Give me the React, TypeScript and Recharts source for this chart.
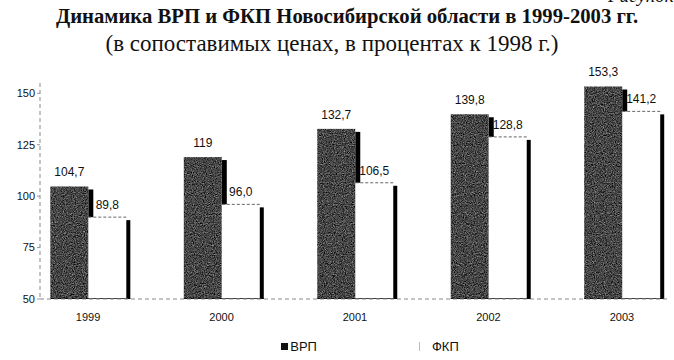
import React from 'react';
import { BarChart, Bar, XAxis, YAxis, LabelList, Legend } from 'recharts';

// Годы и значения (в % к 1998 г.)
const years = [1999, 2000, 2001, 2002, 2003];
const vrp = [104.7, 119, 132.7, 139.8, 153.3];
const fkp = [89.8, 96.0, 106.5, 128.8, 141.2];
const vrpLabels = ['104,7', '119', '132,7', '139,8', '153,3'];
const fkpLabels = ['89,8', '96,0', '106,5', '128,8', '141,2'];
const yTicks = [50, 75, 100, 125, 150];

const data = years.map((year, i) => ({
  year,
  vrp: vrp[i],
  fkp: fkp[i],
  vrpLabel: vrpLabels[i],
  fkpLabel: fkpLabels[i],
}));

const sans = 'Liberation Sans, Arial, sans-serif';
const serif = 'Liberation Serif, Times New Roman, serif';
const labelFont = { fontFamily: sans, fontSize: 12, fill: '#111' };

// тёмный столбец с "объёмной" тенью справа
const VrpShape = (props: any) => {
  const { x, y, width, height } = props;
  if (height <= 0) return null;
  return (
    <g>
      <rect x={x + width} y={y + 3} width={5} height={height - 3} fill="#000" />
      <rect x={x} y={y} width={width} height={height} fill="#555" filter="url(#noise)" />
    </g>
  );
};

// белый столбец с чёрной кромкой справа
const FkpShape = (props: any) => {
  const { x, y, width, height } = props;
  if (height <= 0) return null;
  return (
    <g>
      <rect x={x} y={y} width={width} height={height} fill="#fff" />
      <line x1={x} y1={y} x2={x + width} y2={y} stroke="#666" strokeDasharray="3 2" strokeWidth={1} />
      <rect x={x + width} y={y + 3} width={4} height={height - 3} fill="#000" />
      <line x1={x - width} y1={y + height} x2={x + width + 4} y2={y + height} stroke="#000" strokeWidth={1.5} />
    </g>
  );
};

const renderLegend = () => (
  <div
    style={{
      display: 'flex',
      justifyContent: 'center',
      gap: 102,
      fontFamily: sans,
      fontSize: 13,
      color: '#111',
      paddingLeft: 70,
    }}
  >
    <span style={{ display: 'flex', alignItems: 'center' }}>
      <span style={{ display: 'inline-block', width: 7, height: 7, background: '#111', marginRight: 2 }} />
      ВРП
    </span>
    <span style={{ display: 'flex', alignItems: 'center' }}>
      <span style={{ display: 'inline-block', width: 8, height: 9, borderLeft: '1px solid #bbb', marginRight: 4 }} />
      ФКП
    </span>
  </div>
);

export default function App() {
  return (
    <div style={{ position: 'absolute', left: 0, top: 0, width: 674, height: 360, background: '#fff', overflow: 'hidden' }}>
      <div
        style={{
          position: 'absolute',
          left: 608,
          top: -14,
          lineHeight: '20px',
          fontFamily: serif,
          fontStyle: 'italic',
          fontSize: 19,
          color: '#111',
          whiteSpace: 'nowrap',
        }}
      >
        Рисунок
      </div>
      <div
        style={{
          position: 'absolute',
          left: 0,
          top: 5,
          width: 694,
          lineHeight: '22px',
          textAlign: 'center',
          fontFamily: serif,
          fontWeight: 'bold',
          fontSize: 20.7,
          color: '#111',
          whiteSpace: 'nowrap',
        }}
      >
        Динамика ВРП и ФКП Новосибирской области в 1999-2003 гг.
      </div>
      <div
        style={{
          position: 'absolute',
          left: 0,
          top: 31,
          width: 664,
          lineHeight: '26px',
          textAlign: 'center',
          fontFamily: serif,
          fontSize: 23,
          color: '#111',
          whiteSpace: 'nowrap',
        }}
      >
        (в сопоставимых ценах, в процентах к 1998 г.)
      </div>
      <BarChart
        width={674}
        height={360}
        data={data}
        margin={{ top: 83, right: 4, bottom: 16, left: 0 }}
        barGap={0}
        barSize={38}
      >
        <defs>
          <filter id="noise" x="0" y="0" width="100%" height="100%" colorInterpolationFilters="sRGB">
            <feTurbulence type="fractalNoise" baseFrequency="0.9" numOctaves="2" seed="4" result="t" />
            <feColorMatrix
              in="t"
              type="matrix"
              values="0.33 0.33 0.33 0 0  0.33 0.33 0.33 0 0  0.33 0.33 0.33 0 0  0 0 0 0 1"
              result="g"
            />
            <feComponentTransfer in="g" result="c">
              <feFuncR type="linear" slope="1.4" intercept="-0.42" />
              <feFuncG type="linear" slope="1.4" intercept="-0.42" />
              <feFuncB type="linear" slope="1.4" intercept="-0.42" />
            </feComponentTransfer>
            <feComposite in="c" in2="SourceGraphic" operator="in" />
          </filter>
        </defs>
        <XAxis
          dataKey="year"
          type="number"
          domain={[1998.64, 2003.36]}
          ticks={years}
          tickLine={false}
          axisLine={{ stroke: '#888', strokeDasharray: '4 3' }}
          tick={{ fontFamily: sans, fontSize: 11, fill: '#111' }}
          tickMargin={8}
          height={30}
        />
        <YAxis
          domain={[50, 155]}
          ticks={yTicks}
          width={40}
          axisLine={{ stroke: '#888', strokeDasharray: '4 3' }}
          tickLine={{ stroke: '#999' }}
          tickSize={3}
          tick={{ fontFamily: sans, fontSize: 11, fill: '#111' }}
          allowDataOverflow
        />
        <Legend content={renderLegend} verticalAlign="bottom" wrapperStyle={{ bottom: 6 }} />
        <Bar dataKey="vrp" name="ВРП" shape={VrpShape} isAnimationActive={false}>
          <LabelList dataKey="vrpLabel" position="top" offset={10} style={labelFont} />
        </Bar>
        <Bar dataKey="fkp" name="ФКП" shape={FkpShape} isAnimationActive={false}>
          <LabelList dataKey="fkpLabel" position="top" offset={8} style={labelFont} />
        </Bar>
      </BarChart>
    </div>
  );
}
